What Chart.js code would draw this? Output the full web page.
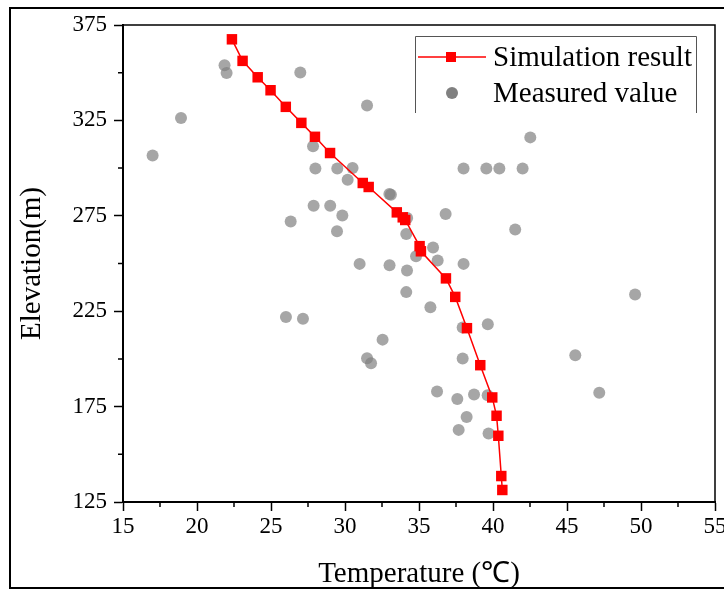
<!DOCTYPE html>
<html>
<head>
<meta charset="utf-8">
<script src="https://cdn.jsdelivr.net/npm/chart.js@4.4.1/dist/chart.umd.min.js"></script>
<style>
body { margin: 0; background: #fff; }
</style>
</head>
<body>
<canvas id="chart" width="724" height="592"></canvas>
<script>
// simulation curve (temperature, elevation)
const simTemp = [22.36, 23.08, 24.1, 24.97, 26.0, 27.05, 27.97, 28.99, 31.2, 31.6, 33.5, 33.9, 34.07,
    35.04, 35.13, 36.82, 37.45, 38.24, 39.14, 39.95, 40.24, 40.36, 40.56, 40.63];
const simElev = [367.5, 356.2, 347.6, 340.8, 332.1, 323.7, 316.4, 307.9, 292.2, 290.1, 276.8, 274.2, 272.8,
    259.1, 256.4, 242.2, 232.5, 216.1, 196.7, 179.8, 170.2, 159.7, 138.6, 131.3];

// measured points
const measTemp = [21.86, 22.0, 26.98, 31.49, 18.92, 17.0, 27.84, 28.0, 29.48, 30.51, 30.18, 33.0, 33.1,
    42.52, 38.01, 39.55, 40.43, 42.0, 27.88, 29.0, 26.33, 29.82, 29.46, 30.99, 33.01, 34.19, 34.14,
    26.01, 27.16, 32.54, 31.49, 31.76, 34.2, 34.14, 34.8, 36.8, 41.5, 35.95, 36.26, 38.01, 35.77,
    49.6, 39.65, 37.95, 45.56, 37.95, 36.22, 37.59, 38.72, 39.64, 47.18, 38.22, 37.68, 39.7];
const measElev = [353.9, 349.9, 350.1, 332.8, 326.2, 306.6, 311.4, 299.8, 299.8, 300.0, 293.9, 286.4, 286.0,
    316.1, 299.8, 299.8, 299.8, 299.8, 280.3, 280.3, 272.0, 275.1, 266.9, 249.8, 249.1, 246.3, 235.0,
    221.9, 221.1, 210.1, 200.3, 197.7, 273.9, 265.4, 253.8, 276.0, 267.8, 258.4, 251.6, 249.8, 227.1,
    233.8, 218.1, 216.5, 201.9, 200.2, 182.9, 179.0, 181.3, 181.0, 182.2, 169.6, 162.8, 160.9];

const xTicks = [15, 20, 25, 30, 35, 40, 45, 50, 55];
const yTicks = [125, 175, 225, 275, 325, 375];

const seriesNames = ["Simulation result", "Measured value"];

const serif = "'Liberation Serif', 'Times New Roman', serif";

const toPoints = (xs, ys) => xs.map((x, i) => ({x: x, y: ys[i]}));

// outer frame, plot box, minor ticks, legend
const decorations = {
    id: "decorations",
    afterDraw(chart) {
        const ctx = chart.ctx;
        const area = chart.chartArea;
        const xs = chart.scales.x, ys = chart.scales.y;
        ctx.save();
        ctx.strokeStyle = "#000";
        ctx.lineWidth = 2;
        ctx.strokeRect(10, 8, 740, 580);

        ctx.lineWidth = 1.5;
        ctx.beginPath();
        ctx.moveTo(area.left, area.top);
        ctx.lineTo(area.right, area.top);
        ctx.lineTo(area.right, area.bottom);
        ctx.stroke();

        // minor ticks halfway between the labelled ones
        ctx.beginPath();
        for (let i = 0; i < xTicks.length - 1; i++) {
            const px = xs.getPixelForValue((xTicks[i] + xTicks[i + 1]) / 2);
            ctx.moveTo(px, area.bottom);
            ctx.lineTo(px, area.bottom + 5);
        }
        for (let i = 0; i < yTicks.length - 1; i++) {
            const py = ys.getPixelForValue((yTicks[i] + yTicks[i + 1]) / 2);
            ctx.moveTo(area.left, py);
            ctx.lineTo(area.left - 5, py);
        }
        ctx.stroke();

        // legend box
        const bx = 415, by = 36, bw = 281, bh = 77;
        ctx.strokeStyle = "#555";
        ctx.lineWidth = 1;
        ctx.beginPath();
        ctx.moveTo(bx + 0.5, by + bh);
        ctx.lineTo(bx + 0.5, by + 0.5);
        ctx.lineTo(bx + bw + 0.5, by + 0.5);
        ctx.lineTo(bx + bw + 0.5, by + bh);
        ctx.stroke();

        const sim = chart.data.datasets[0];
        const meas = chart.data.datasets[1];
        const row1 = by + 21, row2 = by + 57;
        ctx.strokeStyle = sim.borderColor;
        ctx.lineWidth = 1.5;
        ctx.beginPath();
        ctx.moveTo(bx + 3, row1);
        ctx.lineTo(bx + 71, row1);
        ctx.stroke();
        ctx.fillStyle = sim.pointBackgroundColor;
        ctx.fillRect(bx + 31, row1 - 5, 10, 10);
        ctx.fillStyle = "#808080";
        ctx.beginPath();
        ctx.arc(bx + 37, row2, 6, 0, Math.PI * 2);
        ctx.fill();

        ctx.fillStyle = "#000";
        ctx.font = "29px " + serif;
        ctx.textBaseline = "middle";
        ctx.textAlign = "left";
        ctx.fillText(sim.label, bx + 78, row1 + 1);
        ctx.fillText(meas.label, bx + 78, row2 + 1);
        ctx.restore();
    }
};

new Chart(document.getElementById("chart"), {
    type: "scatter",
    data: {
        datasets: [
            {
                label: seriesNames[0],
                data: toPoints(simTemp, simElev),
                showLine: true,
                borderColor: "#ff0000",
                borderWidth: 1.5,
                pointStyle: "rect",
                pointRadius: 7.4,
                pointBackgroundColor: "#ff0000",
                pointBorderWidth: 0,
                tension: 0
            },
            {
                label: seriesNames[1],
                data: toPoints(measTemp, measElev),
                pointStyle: "circle",
                pointRadius: 6,
                pointBackgroundColor: "rgba(128,128,128,0.7)",
                pointBorderWidth: 0
            }
        ]
    },
    options: {
        responsive: false,
        animation: false,
        devicePixelRatio: 1,
        layout: {padding: {top: 25, right: 9, left: 0, bottom: 0}},
        plugins: {
            legend: {display: false},
            tooltip: {enabled: false}
        },
        scales: {
            x: {
                type: "linear",
                min: 15,
                max: 55,
                afterBuildTicks: s => { s.ticks = xTicks.map(v => ({value: v})); },
                afterFit: s => { s.height = 90; s.paddingLeft = 0; s.paddingRight = 0; },
                border: {display: true, color: "#000", width: 2},
                grid: {display: true, drawOnChartArea: false, drawTicks: true, tickLength: 9, tickWidth: 1.5, tickColor: "#000"},
                ticks: {color: "#000", font: {family: serif, size: 23}, padding: 2, maxRotation: 0},
                title: {display: true, text: "Temperature (\u2103)", color: "#000", font: {family: serif, size: 29}, padding: {top: 0, bottom: 0}}
            },
            y: {
                type: "linear",
                min: 125,
                max: 375,
                afterBuildTicks: s => { s.ticks = yTicks.map(v => ({value: v})); },
                afterFit: s => { s.width = 123; s.paddingTop = 0; s.paddingBottom = 0; },
                border: {display: true, color: "#000", width: 2},
                grid: {display: true, drawOnChartArea: false, drawTicks: true, tickLength: 9, tickWidth: 1.5, tickColor: "#000"},
                ticks: {color: "#000", font: {family: serif, size: 23}, padding: 7},
                title: {display: true, text: "Elevation(m)", color: "#000", font: {family: serif, size: 29}, padding: {top: 15, bottom: 0}}
            }
        }
    },
    plugins: [decorations]
});
</script>
</body>
</html>
